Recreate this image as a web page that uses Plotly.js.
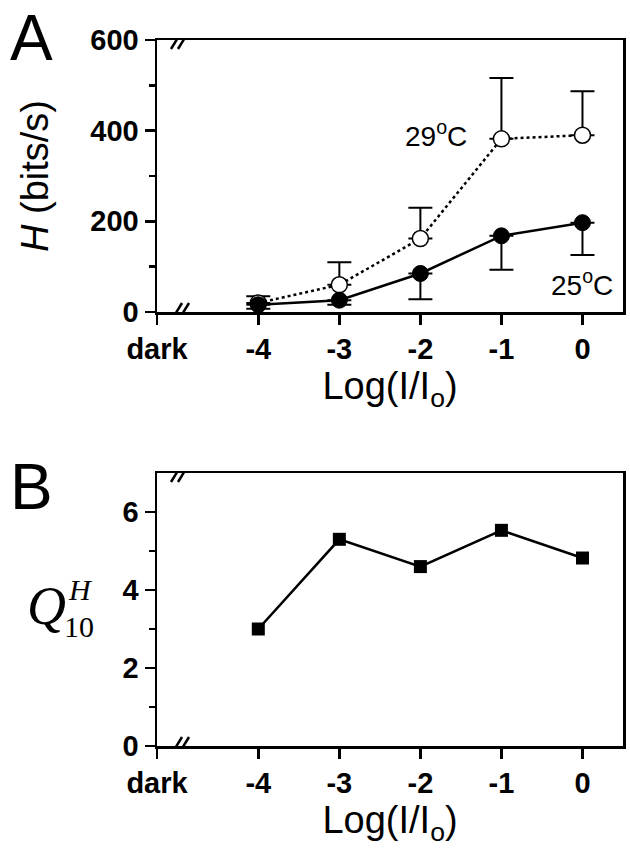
<!DOCTYPE html>
<html>
<head>
<meta charset="utf-8">
<script src="https://cdn.plot.ly/plotly-3.0.1.min.js"></script>
<style>html,body{margin:0;padding:0;background:#fff;}#chart{width:630px;height:853px;}</style>
</head>
<body>
<div id="chart"></div>
<script>
// Data
const logI = [-4, -3, -2, -1, 0];
const xTickVals = [-5.25, -4, -3, -2, -1, 0];
const xTickText = ['dark', '-4', '-3', '-2', '-1', '0'];
const H29 = [20, 60, 162, 382, 390];
const H29errUp = [15, 50, 68, 134, 97];
const H25 = [16, 26, 85, 168, 197];
const H25errDown = [9, 10, 57, 75, 71];
const Q10 = [3.0, 5.3, 4.6, 5.53, 4.82];

const W = 630, HH = 853;
const px = v => v / W;
const py = v => 1 - v / HH;
const tickFont = {family: 'Liberation Sans, Arial, sans-serif', size: 29, color: '#000', weight: 'bold'};
const titleFont = {family: 'Liberation Sans, Arial, sans-serif', size: 38, color: '#000'};

const axisCommon = {
  showline: true, linecolor: '#000', linewidth: 2.5, mirror: true,
  ticks: 'outside', ticklen: 10, tickwidth: 2.5, tickcolor: '#000',
  showgrid: false, zeroline: false, tickfont: tickFont, fixedrange: true
};

const traces = [
  {x: logI, y: H29, type: 'scatter', mode: 'lines+markers', xaxis: 'x', yaxis: 'y',
   line: {color: '#000', width: 2.5, dash: 'dot'},
   marker: {symbol: 'circle', size: 16, color: '#fff', line: {color: '#000', width: 1.5}},
   error_y: {type: 'data', symmetric: false, array: H29errUp, arrayminus: [0,0,0,0,0], color: '#000', thickness: 2, width: 12},
   name: '29°C'},
  {x: logI, y: H25, type: 'scatter', mode: 'lines+markers', xaxis: 'x', yaxis: 'y',
   line: {color: '#000', width: 2.5},
   marker: {symbol: 'circle', size: 16, color: '#000', line: {color: '#000', width: 1}},
   error_y: {type: 'data', symmetric: false, array: [0,0,0,0,0], arrayminus: H25errDown, color: '#000', thickness: 2, width: 12},
   name: '25°C'},
  {x: logI, y: Q10, type: 'scatter', mode: 'lines+markers', xaxis: 'x2', yaxis: 'y2',
   line: {color: '#000', width: 2.5},
   marker: {symbol: 'square', size: 13, color: '#000'},
   name: 'Q10'}
];

function breakMarks(xref, yref, yval) {
  return [0, 7].map(off => ({
    type: 'line', xref: xref, yref: yref,
    xsizemode: 'pixel', xanchor: -5.25, x0: 14 + off, x1: 25 + off,
    ysizemode: 'pixel', yanchor: yval, y0: -9, y1: 9,
    line: {color: '#000', width: 2.5}
  }));
}

const layout = {
  width: W, height: HH,
  margin: {l: 0, r: 0, t: 0, b: 0},
  paper_bgcolor: '#fff', plot_bgcolor: '#fff',
  showlegend: false,
  xaxis: Object.assign({}, axisCommon, {
    domain: [px(157), px(623)], anchor: 'y', range: [-5.25, 0.5],
    tickmode: 'array', tickvals: xTickVals, ticktext: xTickText,
    title: {text: 'Log(I/I<sub>o</sub>)', font: titleFont, standoff: 4}
  }),
  yaxis: Object.assign({}, axisCommon, {
    domain: [py(312), py(40)], anchor: 'x', range: [0, 600],
    tickmode: 'array', tickvals: [0, 200, 400, 600],
    minor: {tickmode: 'array', tickvals: [100, 300, 500], ticks: 'outside', ticklen: 6, tickwidth: 2.5, tickcolor: '#000'},
    title: {text: '<i>H</i> (bits/s)', font: titleFont, standoff: 30}
  }),
  xaxis2: Object.assign({}, axisCommon, {
    domain: [px(157), px(623)], anchor: 'y2', range: [-5.25, 0.5],
    tickmode: 'array', tickvals: xTickVals, ticktext: xTickText,
    title: {text: 'Log(I/I<sub>o</sub>)', font: titleFont, standoff: 4}
  }),
  yaxis2: Object.assign({}, axisCommon, {
    domain: [py(746), py(473)], anchor: 'x2', range: [0, 7],
    tickmode: 'array', tickvals: [0, 2, 4, 6],
    minor: {tickmode: 'array', tickvals: [1, 3, 5], ticks: 'outside', ticklen: 6, tickwidth: 2.5, tickcolor: '#000'}
  }),
  shapes: [].concat(breakMarks('x', 'y', 600), breakMarks('x', 'y', 0), breakMarks('x2', 'y2', 7), breakMarks('x2', 'y2', 0)),
  annotations: [
    {text: 'A', xref: 'paper', yref: 'paper', x: px(31), y: py(38), xanchor: 'center', yanchor: 'middle', showarrow: false,
     font: {family: 'Liberation Sans, Arial, sans-serif', size: 64, color: '#000'}},
    {text: 'B', xref: 'paper', yref: 'paper', x: px(31), y: py(487), xanchor: 'center', yanchor: 'middle', showarrow: false,
     font: {family: 'Liberation Sans, Arial, sans-serif', size: 64, color: '#000'}},
    {text: '29<sup>o</sup>C', xref: 'x', yref: 'y', x: -1.81, y: 392, xanchor: 'center', yanchor: 'middle', showarrow: false,
     font: {family: 'Liberation Sans, Arial, sans-serif', size: 28, color: '#000'}},
    {text: '25<sup>o</sup>C', xref: 'x', yref: 'y', x: 0, y: 64, xanchor: 'center', yanchor: 'middle', showarrow: false,
     font: {family: 'Liberation Sans, Arial, sans-serif', size: 28, color: '#000'}},
    {text: '<i>Q</i>', xref: 'paper', yref: 'paper', x: px(46), y: py(606), xanchor: 'center', yanchor: 'middle', showarrow: false,
     font: {family: 'Liberation Serif, Times New Roman, serif', size: 54, color: '#000'}},
    {text: '<i>H</i>', xref: 'paper', yref: 'paper', x: px(81), y: py(589), xanchor: 'center', yanchor: 'middle', showarrow: false,
     font: {family: 'Liberation Serif, Times New Roman, serif', size: 30, color: '#000'}},
    {text: '10', xref: 'paper', yref: 'paper', x: px(79), y: py(626), xanchor: 'center', yanchor: 'middle', showarrow: false,
     font: {family: 'Liberation Serif, Times New Roman, serif', size: 30, color: '#000'}}
  ]
};

Plotly.newPlot('chart', traces, layout, {displayModeBar: false, staticPlot: true});
</script>
</body>
</html>
